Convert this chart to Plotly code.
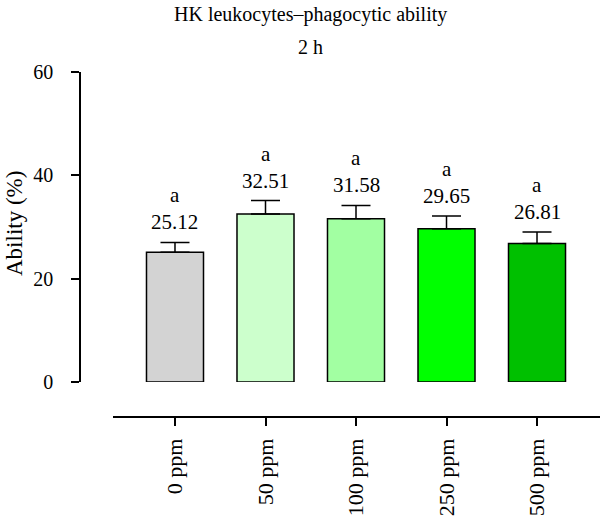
import plotly.graph_objects as go

categories = ["0 ppm", "50 ppm", "100 ppm", "250 ppm", "500 ppm"]
values = [25.12, 32.51, 31.58, 29.65, 26.81]
errors = [1.9, 2.6, 2.6, 2.5, 2.2]
letters = ["a", "a", "a", "a", "a"]
colors = ["#d3d3d3", "#ccffcc", "#a2ffa2", "#00ff00", "#00c000"]
y_ticks = [0, 20, 40, 60]

FONT = "Liberation Serif, Times New Roman, serif"
W, H = 600, 518
L, R, T, B = 80, 0, 72, 101
plot_w = W - L - R
plot_h = H - T - B

fig = go.Figure()
fig.add_trace(go.Bar(
    x=list(range(len(categories))), y=values,
    marker=dict(color=colors, line=dict(color="black", width=1.5)),
    width=0.63,
    error_y=dict(type="data", array=errors, symmetric=False, arrayminus=[0]*len(errors),
                 color="black", thickness=1.5, width=14.5),
    showlegend=False,
))

for i, (v, e, lt) in enumerate(zip(values, errors, letters)):
    fig.add_annotation(x=i, y=v + e, xref="x", yref="y", text=f"{v:.2f}",
                       showarrow=False, yanchor="bottom", yshift=6,
                       font=dict(family=FONT, size=21, color="black"))
    fig.add_annotation(x=i, y=v + e, xref="x", yref="y", text=lt,
                       showarrow=False, yanchor="bottom", yshift=33,
                       font=dict(family=FONT, size=21, color="black"))

x0_frac = (113 - L) / plot_w
y0_frac = (417 - 382) / plot_h

fig.update_layout(
    width=W, height=H,
    margin=dict(l=L, r=R, t=T, b=B),
    paper_bgcolor="white", plot_bgcolor="white",
    font=dict(family=FONT, size=19, color="black"),
    xaxis=dict(domain=[x0_frac, 1], range=[-0.685, 4.696], anchor="free", position=0,
               tickmode="array", tickvals=list(range(len(categories))), ticktext=categories,
               tickangle=-90, ticks="outside", ticklen=8, tickwidth=1.5, tickcolor="black",
               showline=True, linecolor="black", linewidth=1.5, showgrid=False, zeroline=False,
               ticklabelstandoff=4,
               tickfont=dict(family=FONT, size=22)),
    yaxis=dict(domain=[y0_frac, 1], range=[0, 60], anchor="free", position=0,
               tickmode="array", tickvals=y_ticks,
               ticks="outside", ticklen=8, tickwidth=1.5, tickcolor="black",
               showline=True, linecolor="black", linewidth=1.5, showgrid=False, zeroline=False,
               ticklabelstandoff=14,
               tickfont=dict(family=FONT, size=20)),
)

fig.add_annotation(xref="paper", yref="paper", x=(310 - L) / plot_w, y=1 + (T - 14) / plot_h,
                   text="HK leukocytes–phagocytic ability", showarrow=False,
                   xanchor="center", yanchor="middle", borderpad=0,
                   font=dict(family=FONT, size=20))
fig.add_annotation(xref="paper", yref="paper", x=(310 - L) / plot_w, y=1 + (T - 47) / plot_h,
                   text="2 h", showarrow=False,
                   xanchor="center", yanchor="middle", borderpad=0,
                   font=dict(family=FONT, size=20))
fig.add_annotation(xref="paper", yref="paper", x=(14 - L) / plot_w, y=(H - B - 224) / plot_h,
                   text="Ability (%)", showarrow=False, textangle=-90,
                   xanchor="center", yanchor="middle",
                   font=dict(family=FONT, size=23))

fig.write_html("out.html")
